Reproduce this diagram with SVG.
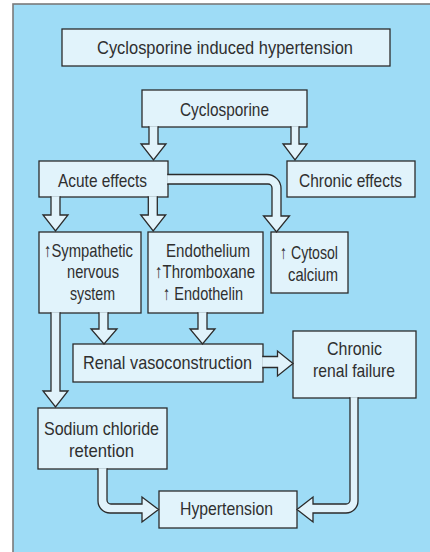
<svg xmlns="http://www.w3.org/2000/svg" width="430" height="552" viewBox="0 0 430 552">
  <style>
    .panel { fill: #9edcf6; stroke: #7a7a7a; stroke-width: 1.6; }
    .box { fill: #e1f3fb; stroke: #2b2b2b; stroke-width: 1.3; }
    .arrow { fill: #e1f3fb; stroke: #2b2b2b; stroke-width: 1.3; stroke-linejoin: miter; }
    text { font-family: "Liberation Sans", Arial, sans-serif; font-size: 19px; fill: #2f2f2f; text-anchor: middle; }
  </style>

  <!-- background panel -->
  <rect x="0" y="0" width="430" height="552" fill="#ffffff"/>
  <rect class="panel" x="13" y="4" width="430" height="560"/>

  <g id="title">
    <rect class="box" x="62" y="29" width="328" height="37"/>
    <text x="225" y="53.5" textLength="256" lengthAdjust="spacingAndGlyphs">Cyclosporine induced hypertension</text>
  </g>

  <g id="cyclosporine">
    <rect class="box" x="142" y="90" width="165" height="37"/>
    <text x="224.5" y="116" textLength="89" lengthAdjust="spacingAndGlyphs">Cyclosporine</text>
  </g>

  <g id="acute-effects">
    <rect class="box" x="39" y="161" width="129" height="36"/>
    <text x="102.5" y="187" textLength="89" lengthAdjust="spacingAndGlyphs">Acute effects</text>
  </g>

  <g id="chronic-effects">
    <rect class="box" x="287" y="161" width="128" height="36"/>
    <text x="350.5" y="187" textLength="103" lengthAdjust="spacingAndGlyphs">Chronic effects</text>
  </g>

  <g id="sympathetic">
    <rect class="box" x="39" y="232" width="102" height="81"/>
    <text x="88.5" y="257" textLength="89" lengthAdjust="spacingAndGlyphs">↑Sympathetic</text>
    <text x="93" y="278" textLength="52" lengthAdjust="spacingAndGlyphs">nervous</text>
    <text x="92.5" y="300" textLength="45" lengthAdjust="spacingAndGlyphs">system</text>
  </g>

  <g id="endothelium">
    <rect class="box" x="148" y="232" width="115" height="81"/>
    <text x="208" y="257" textLength="84" lengthAdjust="spacingAndGlyphs">Endothelium</text>
    <text x="205" y="278" textLength="100" lengthAdjust="spacingAndGlyphs">↑Thromboxane</text>
    <text x="203" y="300" textLength="80" lengthAdjust="spacingAndGlyphs">↑ Endothelin</text>
  </g>

  <g id="cytosol-calcium">
    <rect class="box" x="271" y="232" width="77" height="61"/>
    <text x="309" y="259" textLength="58" lengthAdjust="spacingAndGlyphs">↑ Cytosol</text>
    <text x="313" y="281" textLength="50" lengthAdjust="spacingAndGlyphs">calcium</text>
  </g>

  <g id="renal-vasoconstruction">
    <rect class="box" x="73" y="344" width="190" height="38"/>
    <text x="167.5" y="369" textLength="169" lengthAdjust="spacingAndGlyphs">Renal vasoconstruction</text>
  </g>

  <g id="chronic-renal-failure">
    <rect class="box" x="293" y="331" width="123" height="67"/>
    <text x="354.5" y="355" textLength="55" lengthAdjust="spacingAndGlyphs">Chronic</text>
    <text x="354" y="377" textLength="82" lengthAdjust="spacingAndGlyphs">renal failure</text>
  </g>

  <g id="sodium-chloride-retention">
    <rect class="box" x="38" y="408" width="129" height="61"/>
    <text x="101.5" y="435" textLength="115" lengthAdjust="spacingAndGlyphs">Sodium chloride</text>
    <text x="101.5" y="457" textLength="65" lengthAdjust="spacingAndGlyphs">retention</text>
  </g>

  <g id="hypertension">
    <rect class="box" x="159" y="491" width="138" height="37"/>
    <text x="226.5" y="515" textLength="93" lengthAdjust="spacingAndGlyphs">Hypertension</text>
  </g>

  <!-- block arrows: open paths so the fill covers the box edge they leave from -->
  <g id="connectors">
    <path class="arrow" d="M149,126.2 V144 H141 L153.5,160 L166,144 H158 V126.2"/>
    <path class="arrow" d="M291,126.2 V144 H283 L295,160 L307,144 H299 V126.2"/>

    <path class="arrow" d="M51,196.2 V215 H43 L55.5,231 L68,215 H60 V196.2"/>
    <path class="arrow" d="M148.3,196.2 V215 H140.7 L153.2,231 L165.7,215 H157.3 V196.2"/>
    <path class="arrow" d="M167.2,174.5 H267 A14,14 0 0 1 281,188.5 V216 H289.5 L276.5,232 L263.5,216 H272 V188 A4,4 0 0 0 268,184 H167.2"/>

    <path class="arrow" d="M51,312.2 V391 H43 L55.5,407 L68,391 H60 V312.2"/>
    <path class="arrow" d="M99,312.2 V329 H91 L104,344 L117,329 H108 V312.2"/>
    <path class="arrow" d="M198,312.2 V329 H190 L202.5,344 L215,329 H207 V312.2"/>

    <path class="arrow" d="M262.2,356.5 H277.5 V351 L293,363.5 L277.5,376 V367.5 H262.2"/>

    <path class="arrow" d="M98,468.2 V501 A12,12 0 0 0 110,513 H142 V522 L158.5,509.5 L142,497 V504 H111 A4,4 0 0 1 107,500 V468.2"/>
    <path class="arrow" d="M358,397.2 V501 A12,12 0 0 1 346,513 H313 V522 L297,509.5 L313,497 V504 H346 A4,4 0 0 0 350,500 V397.2"/>
  </g>
</svg>
